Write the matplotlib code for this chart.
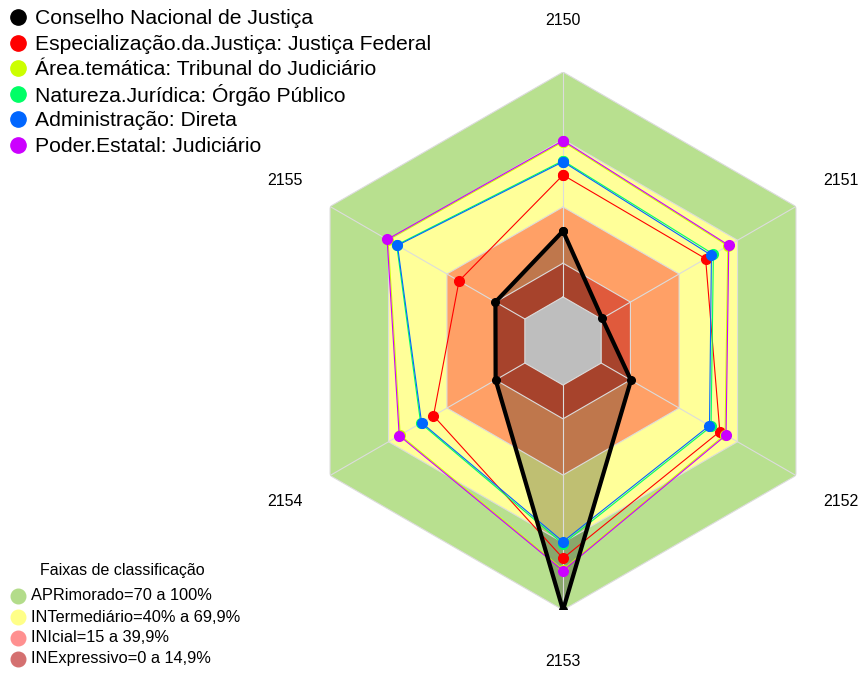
import matplotlib
matplotlib.use("Agg")
import matplotlib.pyplot as plt
import numpy as np
from matplotlib.lines import Line2D

plt.rcParams["font.family"] = ["Liberation Sans", "DejaVu Sans"]

# ---- data ----
years = ["2150", "2151", "2152", "2153", "2154", "2155"]

series_names = [
    "Conselho Nacional de Justiça",
    "Especialização.da.Justiça: Justiça Federal",
    "Área.temática: Tribunal do Judiciário",
    "Natureza.Jurídica: Órgão Público",
    "Administração: Direta",
    "Poder.Estatal: Judiciário",
]
series_colors = ["black", "#FF0000", "#CCFF00", "#00FF66", "#0066FF", "#CC00FF"]

cnj = [29.3, 0.5, 15.3, 100.0, 15.0, 15.1]
justica_federal = [54.2, 53.6, 60.9, 77.0, 46.9, 33.8]
tribunal = [69.0, 65.0, 63.6, 82.0, 64.0, 70.2]
orgao_publico = [60.6, 57.6, 56.4, 70.6, 53.5, 65.8]
direta = [60.1, 56.6, 55.6, 69.6, 53.0, 65.4]
judiciario = [69.5, 65.5, 64.1, 82.5, 64.5, 70.7]

series_values = [cnj, justica_federal, tribunal, orgao_publico, direta, judiciario]

band_limits = [100, 70, 40, 15]
band_colors = ["#B8E08F", "#FFFF99", "#FFA066", "#E05A3C"]
band_labels = [
    "APRimorado=70 a 100%",
    "INTermediário=40% a 69,9%",
    "INIcial=15 a 39,9%",
    "INExpressivo=0 a 14,9%",
]
band_legend_colors = ["#B3DC8A", "#FFFF88", "#FF9090", "#D47070"]

# ---- figure ----
W, H = 863, 673
fig = plt.figure(figsize=(W / 100, H / 100), dpi=100)
ax = fig.add_axes([0.3407, 0.0936, 0.6234, 0.7994], projection="polar")
ax.set_theta_offset(np.pi / 2)
ax.set_theta_direction(-1)
ax.set_rlim(-19.6, 100)
ax.set_axis_off()

angles = np.arange(len(years)) * 2 * np.pi / len(years)
closed = np.append(angles, angles[0])


def ring(v):
    return np.full(len(closed), v)


# bands
for lim, col in zip(band_limits, band_colors):
    ax.fill(closed, ring(lim), color=col, lw=0, zorder=1)

# black series fill (darkens what lies under it)
ax.fill(closed, np.append(cnj, cnj[0]), color="black", alpha=0.25, lw=0, zorder=2)

# inner gray hexagon
ax.fill(closed, ring(0), color="#BEBEBE", lw=0, zorder=3)

# grid
for lim in [0] + band_limits:
    ax.plot(closed, ring(lim), color="#DCDCDC", lw=0.8, zorder=4)
for a in angles:
    ax.plot([a, a], [0, 100], color="#DCDCDC", lw=0.8, zorder=4)

# series
for k in range(len(series_values) - 1, -1, -1):
    vals = np.append(series_values[k], series_values[k][0])
    if k == 0:
        ax.plot(closed, vals, color="black", lw=3, zorder=10,
                marker="o", ms=5.5)
    else:
        ax.plot(closed, vals, color=series_colors[k], lw=0.8, zorder=5 + k,
                marker="o", ms=7)

# axis labels
for a, y in zip(angles, years):
    ax.text(a, 123, y, ha="center", va="center", fontsize=11.5)


def fx(px):
    return px / W


def fy(py):
    return 1 - py / H


# series legend (top left)
for i, (name, col) in enumerate(zip(series_names, series_colors)):
    y = 17 + 25.5 * i
    fig.add_artist(Line2D([fx(18)], [fy(y)], transform=fig.transFigure,
                          ls="", marker="o", ms=11, color=col))
    fig.text(fx(35), fy(y + 1.5), name, fontsize=15.2, ha="left", va="center")

# band legend (bottom left)
fig.text(fx(122), fy(571), "Faixas de classificação", fontsize=11.5,
         ha="center", va="center")
for i, (lab, col) in enumerate(zip(band_labels, band_legend_colors)):
    y = 596 + 21 * i
    fig.add_artist(Line2D([fx(18)], [fy(y)], transform=fig.transFigure,
                          ls="", marker="o", ms=10.5, color=col))
    fig.text(fx(31), fy(y), lab, fontsize=11.8, ha="left", va="center")

fig.savefig("out.png", dpi=100)
